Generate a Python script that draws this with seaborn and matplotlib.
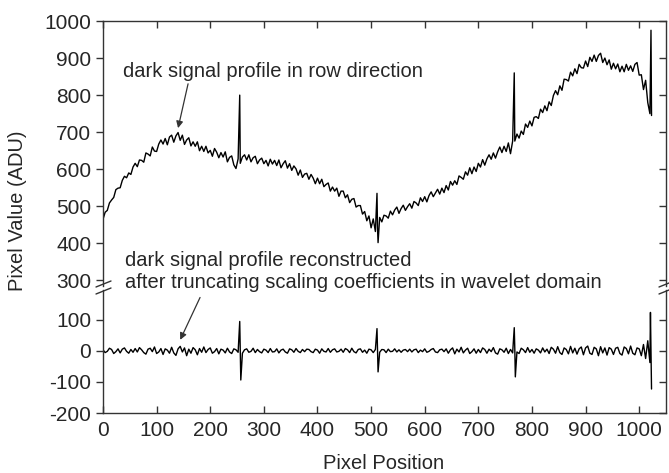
import matplotlib
matplotlib.use("Agg")
import matplotlib.pyplot as plt
import seaborn as sns
import numpy as np
import pandas as pd

# sample positions (every 4th pixel) and profile values
pixel_pos = np.arange(0, 1024, 4)

dark_profile = [
    465, 484, 489, 509, 517, 524, 545, 549, 550, 570, 581, 577, 590, 586, 606, 616,
    607, 625, 624, 619, 644, 641, 636, 660, 649, 648, 668, 679, 668, 683, 666, 687,
    692, 673, 690, 699, 678, 692, 667, 679, 685, 663, 674, 662, 674, 650, 662, 648,
    662, 644, 651, 635, 656, 646, 631, 645, 633, 647, 620, 632, 636, 612, 602, 628,
    616, 633, 639, 625, 639, 620, 631, 635, 615, 625, 630, 615, 624, 609, 627, 614,
    624, 610, 625, 604, 615, 623, 603, 615, 597, 609, 601, 584, 598, 578, 587, 589,
    573, 586, 576, 561, 576, 561, 573, 553, 559, 563, 541, 552, 541, 549, 527, 541,
    541, 523, 531, 510, 519, 521, 498, 502, 502, 479, 486, 461, 474, 442, 466, 432,
    440, 470, 458, 476, 474, 468, 487, 477, 490, 498, 481, 494, 503, 489, 499, 507,
    495, 513, 509, 502, 523, 513, 526, 512, 529, 539, 526, 536, 546, 533, 549, 537,
    556, 544, 567, 557, 569, 559, 582, 578, 573, 593, 584, 604, 588, 606, 594, 616,
    606, 626, 611, 628, 639, 627, 644, 630, 647, 660, 645, 662, 648, 671, 642, 676,
    676, 695, 684, 703, 694, 722, 713, 730, 717, 740, 742, 737, 762, 753, 771, 758,
    782, 772, 799, 812, 801, 825, 813, 843, 842, 838, 862, 852, 871, 858, 883, 874,
    873, 892, 877, 902, 891, 908, 891, 907, 913, 888, 900, 882, 895, 870, 886, 871,
    884, 863, 878, 863, 883, 867, 879, 864, 883, 888, 854, 855, 815, 840, 780, 750,
]

reconstructed = [
    3, -6, -2, 8, 4, -9, -3, 6, -7, 5, 9, -2, -8, 4, -5, 7,
    -4, 10, 3, -6, -11, 5, 8, -3, 12, -9, -4, 7, -12, 6, 2, -8,
    11, -7, -15, 6, 14, -4, 9, -16, 5, -8, 10, 3, -13, 7, -5, 12,
    -6, 4, 9, -8, -3, 7, -10, 5, 2, -7, 8, -4, -9, 6, 3, -5,
    5, -8, 3, 6, -5, -2, 8, -6, 4, -3, -7, 5, 2, -6, 7, -4,
    -3, 6, -7, 2, 5, -4, -8, 6, 3, -5, 7, -2, -6, 4, -3, 5,
    4, -3, -6, 5, 2, -8, 6, -2, -4, 7, -5, 3, 6, -4, -2, 5,
    -5, 7, 3, -6, 8, -3, -7, 4, 6, -5, 2, -8, 5, 3, -6, 4,
    2, -5, 4, 3, -6, 5, -3, -2, 6, -4, 3, -5, 2, 4, -3, 5,
    -4, 3, 5, -6, 2, -3, 6, -5, -2, 4, 7, -4, -6, 3, 5, -3,
    6, -8, 3, 9, -10, 5, -4, 11, -7, 2, 8, -9, -3, 6, -8, 4,
    -6, 9, 4, -8, 5, -3, 10, -7, -11, 6, 3, -5, 8, -9, 4, -7,
    7, -4, -9, 8, 3, -6, 10, -5, 4, -8, 6, 2, -7, 9, -4, 5,
    -9, 11, 5, -8, 13, -6, -12, 9, 4, -10, 14, -7, 8, -11, 6, 12,
    -13, 9, 15, -8, -12, 11, 6, -16, 13, -7, 9, -14, 10, 5, -12, 8,
    11, -9, -14, 12, 7, -10, 15, -8, -13, 9, 6, -16, 20, -25, 32, -38,
]

# hot-pixel spikes
spike_pos_top = [255, 511, 513, 767, 1022, 1023]
spike_val_top = [800, 535, 402, 860, 975, 745]
spike_pos_bot = [255, 257, 511, 513, 767, 769, 1021, 1023]
spike_val_bot = [94, -94, 71, -68, 74, -84, 123, -123]

top_df = pd.DataFrame({"pos": np.concatenate([pixel_pos, spike_pos_top]),
                       "val": np.concatenate([dark_profile, spike_val_top])}).sort_values("pos")
bot_df = pd.DataFrame({"pos": np.concatenate([pixel_pos, spike_pos_bot]),
                       "val": np.concatenate([reconstructed, spike_val_bot])}).sort_values("pos")

sns.set_style("ticks")
plt.rcParams["font.family"] = ["Liberation Sans", "DejaVu Sans"]
plt.rcParams["axes.linewidth"] = 1.0
plt.rcParams["axes.unicode_minus"] = False

W, H = 669, 473
fig = plt.figure(figsize=(W / 100, H / 100), dpi=100)
L, R = 103 / W, 666 / W
ax_top = fig.add_axes([L, 1 - 286 / H, R - L, (286 - 21) / H])
ax_bot = fig.add_axes([L, 1 - 413 / H, R - L, (413 - 290) / H])

sns.lineplot(data=top_df, x="pos", y="val", ax=ax_top, color="black",
             linewidth=1.0, estimator=None, sort=False)
sns.lineplot(data=bot_df, x="pos", y="val", ax=ax_bot, color="black",
             linewidth=1.0, estimator=None, sort=False)

xticks = np.arange(0, 1001, 100)
spine_col = "#333333"

ax_top.set_ylim(285, 1000)
ax_top.set_yticks(np.arange(300, 1001, 100))
ax_bot.set_ylim(-200, 195)
ax_bot.set_yticks([-200, -100, 0, 100])

for ax in (ax_top, ax_bot):
    ax.set_xlim(0, 1050)
    ax.set_xticks(xticks)
    ax.set_xlabel("")
    ax.set_ylabel("")
    # major ticks: left, outward; minor ticks at the same spots: right, inward
    ax.yaxis.remove_overlapping_locs = False
    ax.set_yticks(ax.get_yticks(), minor=True)
    ax.tick_params(axis="y", which="major", left=True, right=False, direction="out",
                   length=5, width=1.0, labelsize=15, color=spine_col)
    ax.tick_params(axis="y", which="minor", left=False, right=True, direction="in",
                   length=5, width=1.0, labelleft=False, labelright=False, color=spine_col)
    ax.tick_params(axis="x", direction="in", length=5, width=1.0, labelsize=15,
                   color=spine_col)
    for s in ax.spines.values():
        s.set_color(spine_col)

ax_top.spines["bottom"].set_visible(False)
ax_top.tick_params(axis="x", bottom=False, top=True, labelbottom=False)
ax_bot.spines["top"].set_visible(False)
ax_bot.tick_params(axis="x", bottom=True, top=False, pad=6)

# axis-break marks on both sides
for xp in (103, 666):
    for y0 in (287, 294):
        fig.add_artist(plt.Line2D([(xp - 7) / W, (xp + 8) / W],
                                  [1 - y0 / H, 1 - (y0 - 6) / H],
                                  color=spine_col, linewidth=1.0))

# annotations
fs = 14.5
ax_top.annotate("dark signal profile in row direction", xy=(140, 711), xytext=(37, 865),
                fontsize=fs, va="center", ha="left",
                arrowprops=dict(arrowstyle="-|>", color=spine_col, lw=0.9,
                                shrinkA=0, shrinkB=0, mutation_scale=10,
                                relpos=(0.22, 0.0)))
fig.text(125 / W, 1 - 260 / H, "dark signal profile reconstructed", fontsize=fs, va="center")
fig.text(125 / W, 1 - 283 / H, "after truncating scaling coefficients in wavelet domain",
         fontsize=fs, va="center")
ax_bot.annotate("", xy=(144, 35), xytext=(181, 171),
                arrowprops=dict(arrowstyle="-|>", color=spine_col, lw=0.9,
                                shrinkA=0, shrinkB=0, mutation_scale=10))

fig.text(18 / W, 1 - 211 / H, "Pixel Value (ADU)", rotation=90, fontsize=14.5,
         va="center", ha="center")
fig.text(384 / W, 1 - 463 / H, "Pixel Position", fontsize=14.5, va="center", ha="center")

fig.savefig("out.png", dpi=100)
